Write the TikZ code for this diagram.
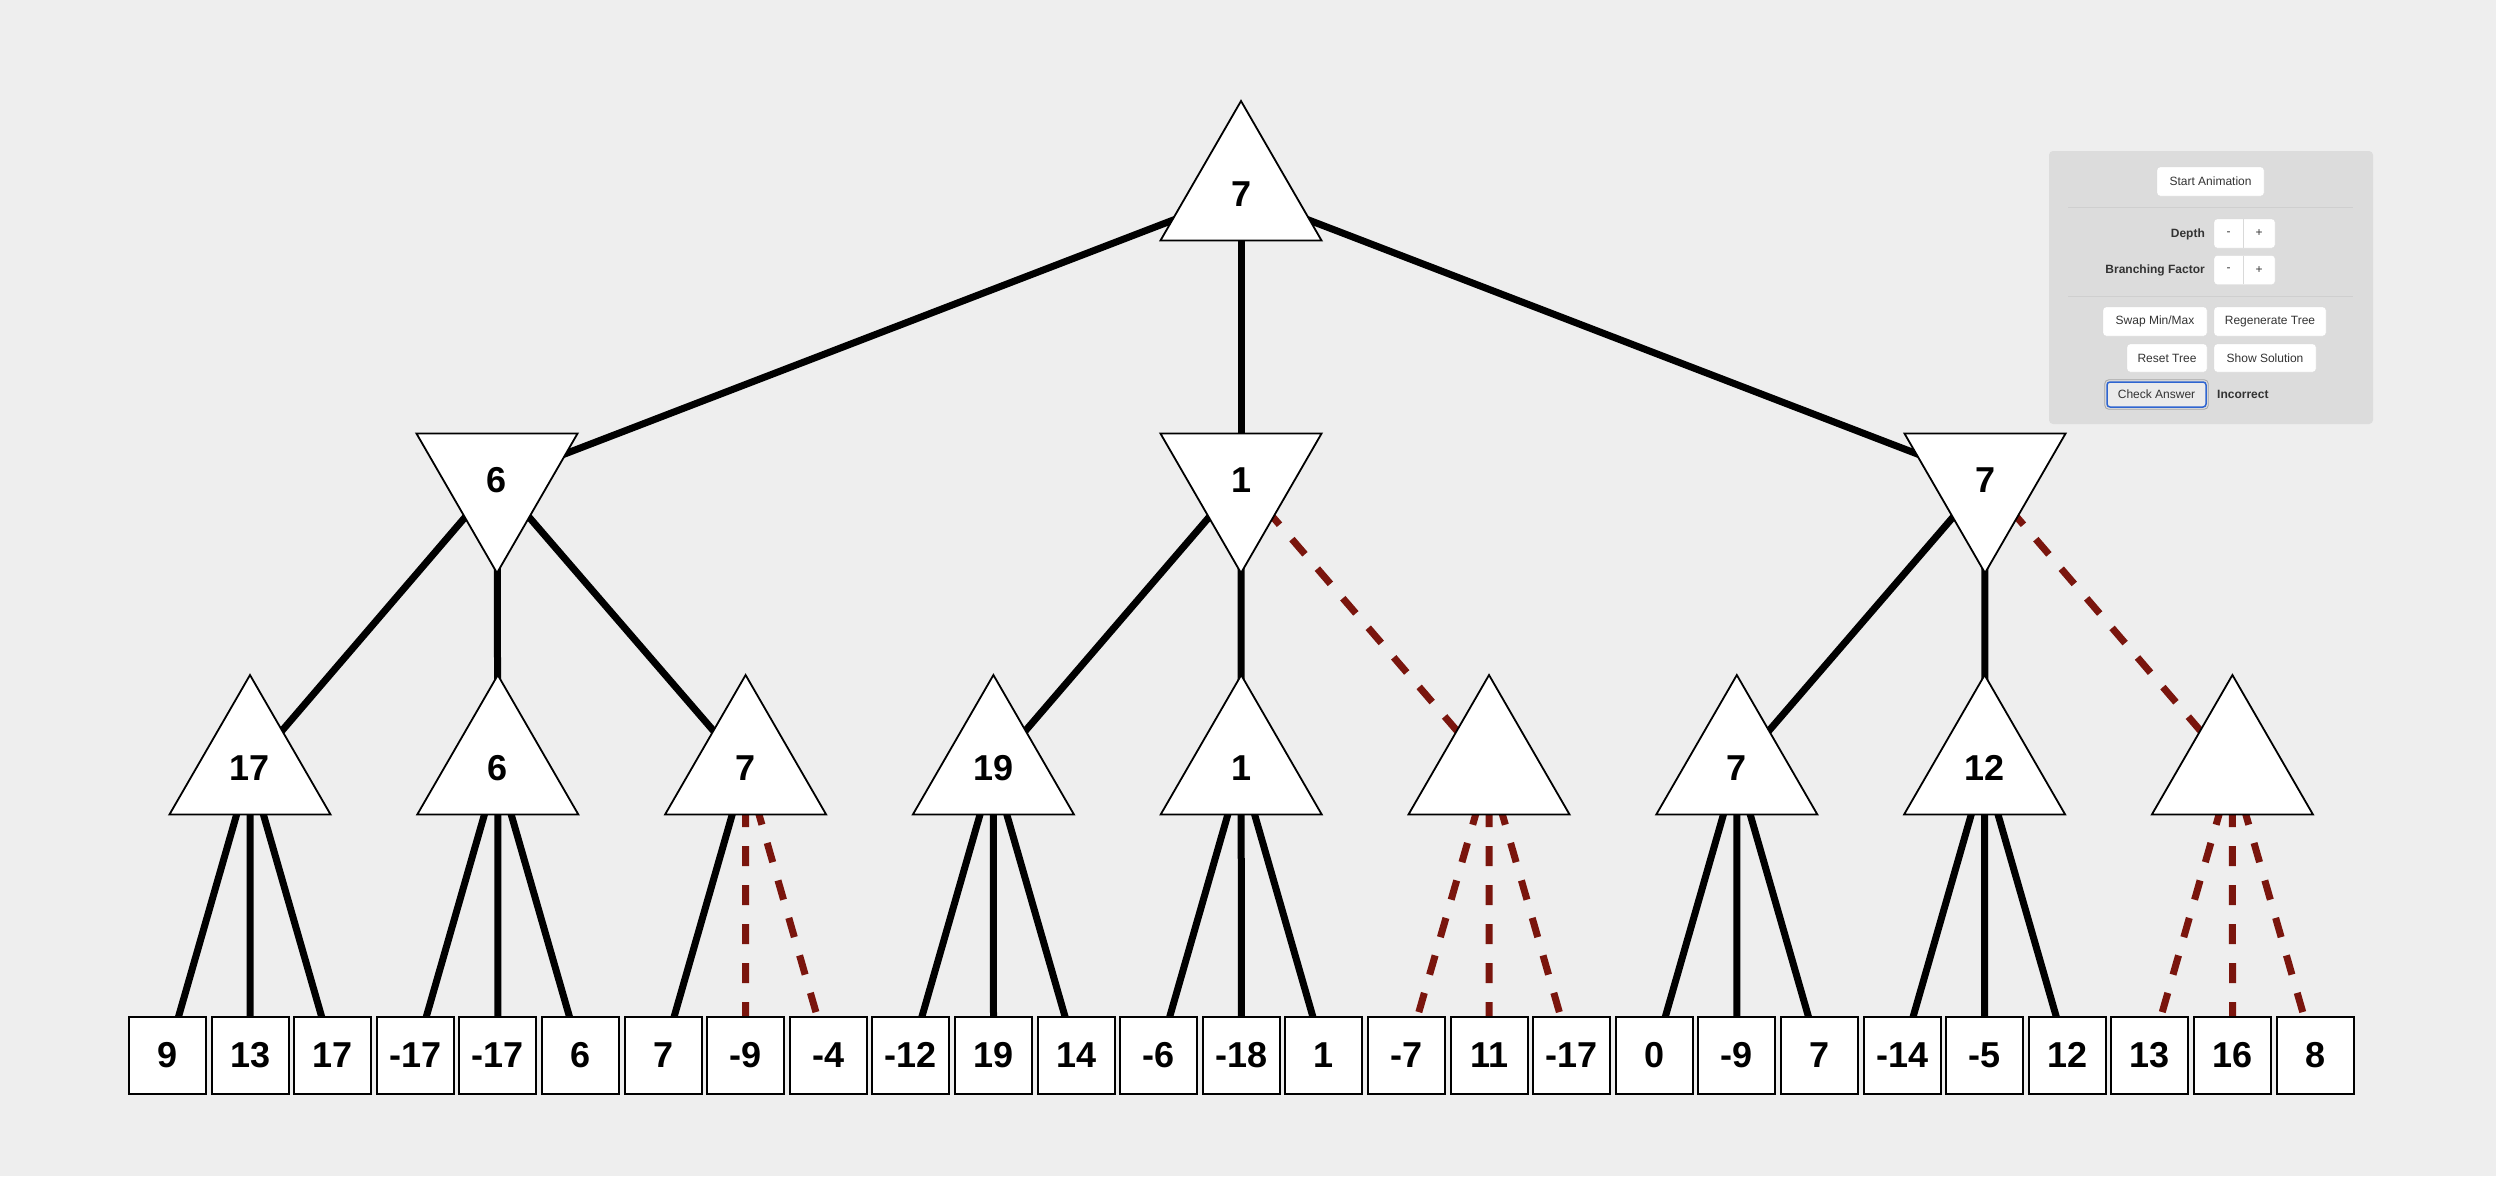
\documentclass[tikz,border=0pt]{standalone}
\usepackage{fontspec}
\setmainfont{Liberation Sans}
\usetikzlibrary{shapes.geometric,backgrounds}
\definecolor{canvas}{HTML}{EEEEEE}
\definecolor{panelbg}{HTML}{DCDCDC}
\definecolor{prunered}{RGB}{122,21,13}
\definecolor{paneltext}{HTML}{333333}
\definecolor{focusblue}{HTML}{2F65D0}
\begin{document}
\begin{tikzpicture}[x=1pt,y=-1pt,
	valtext/.style={font=\fontsize{36}{40}\selectfont\bfseries},
	maxnode/.style={valtext,regular polygon,regular polygon sides=3,minimum size=186pt,inner sep=0pt,draw,line width=1.8pt,fill=white},
	minnode/.style={maxnode,shape border rotate=180},
	leafbox/.style={valtext,draw,line width=2pt,fill=white,minimum size=77pt,inner sep=0pt},
	branch/.style={line width=7pt},
	cut/.style={line width=7pt,prunered,dash pattern=on 20pt off 19pt},
	btn/.style={draw=black!15,fill=white,rounded corners=3pt,minimum height=29pt,inner sep=0pt,font=\fontsize{12}{14}\selectfont,text=paneltext},
	lbl/.style={font=\fontsize{12}{14}\selectfont\bfseries,text=paneltext,inner sep=0pt},
	sep/.style={black!19,line width=1pt}]
	\useasboundingbox (0,0) rectangle (2496,1176);
	% tree
	\node[maxnode] (r) at (1241,194) {7};
	\foreach \n/\x/\v in {a/497/6,b/1241/1,c/1985/7}
		\node[minnode] (\n) at (\x,480) {\v};
	\foreach \n/\v [count=\i from 0] in {a1/17,a2/6,a3/7,b1/19,b2/1,b3/,c1/7,c2/12,c3/}
		\node[maxnode] (\n) at ({250+247.8*\i},768) {\v};
	\foreach \n/\v [count=\i from 0] in {a11/9,a12/13,a13/17,a21/-17,a22/-17,a23/6,a31/7,a32/-9,a33/-4,
		b11/-12,b12/19,b13/14,b21/-6,b22/-18,b23/1,b31/-7,b32/11,b33/-17,
		c11/0,c12/-9,c13/7,c21/-14,c22/-5,c23/12,c31/13,c32/16,c33/8}
		\node[leafbox] (\n) at ({167.5+82.6*\i},1055) {\v};
	\begin{scope}[on background layer]
		\fill[canvas] (0,0) rectangle (2496,1176);
		\foreach \p/\c in {r/a,r/b,r/c,a/a1,a/a2,a/a3,b/b1,b/b2,c/c1,c/c2,
			a1/a11,a1/a12,a1/a13,a2/a21,a2/a22,a2/a23,a3/a31,b1/b11,b1/b12,b1/b13,
			b2/b21,b2/b22,b2/b23,c1/c11,c1/c12,c1/c13,c2/c21,c2/c22,c2/c23}
			\draw[branch] (\p.center) -- (\c.center);
		\foreach \p/\c in {b/b3,c/c3,a3/a32,a3/a33,b3/b31,b3/b32,b3/b33,c3/c31,c3/c32,c3/c33}
			\draw[cut] (\p.center) -- (\c.center);
	\end{scope}
	% control panel
	\fill[panelbg,rounded corners=4pt] (2049,151) rectangle (2373,424);
	\node[btn,minimum width=107pt] (start) at (2210.5,181.5) {Start Animation};
	\draw[sep] (2068,207) -- (2353,207);
	\node[lbl,anchor=east] (depth) at (2205,234) {Depth};
	\node[btn,minimum width=61pt] (depthbtn) at (2244.5,233.5) {};
	\draw[black!15,line width=1pt] (2243,219) -- (2243,248);
	\node[lbl,font=\fontsize{12}{14}\selectfont,inner sep=0pt] (dminus) at (2228.5,233.5) {-};
	\node[lbl,font=\fontsize{12}{14}\selectfont,inner sep=0pt] (dplus) at (2259,233.5) {+};
	\node[lbl,anchor=east] (branching) at (2205,270) {Branching Factor};
	\node[btn,minimum width=61pt] (branchbtn) at (2244.5,270) {};
	\draw[black!15,line width=1pt] (2243,256) -- (2243,284);
	\node[lbl,font=\fontsize{12}{14}\selectfont,inner sep=0pt] (bminus) at (2228.5,270) {-};
	\node[lbl,font=\fontsize{12}{14}\selectfont,inner sep=0pt] (bplus) at (2259,270) {+};
	\draw[sep] (2068,296) -- (2353,296);
	\node[btn,minimum width=104pt] (swap) at (2155,321.5) {Swap Min/Max};
	\node[btn,minimum width=112pt] (regen) at (2270,321.5) {Regenerate Tree};
	\node[btn,minimum width=80pt,minimum height=28pt] (reset) at (2167,358) {Reset Tree};
	\node[btn,minimum width=102pt,minimum height=28pt] (solution) at (2265,358) {Show Solution};
	\node[btn,fill=black!8,draw=focusblue,line width=1.5pt,minimum width=99pt,minimum height=25pt] (check) at (2156.5,394.5) {Check Answer};
	\draw[black!35,line width=0.8pt,rounded corners=4pt] ([shift={(-1.5,-1.5)}]check.north west) rectangle ([shift={(1.5,1.5)}]check.south east);
	\node[lbl,anchor=west] (result) at (2217,394) {Incorrect};
\end{tikzpicture}
\end{document}
